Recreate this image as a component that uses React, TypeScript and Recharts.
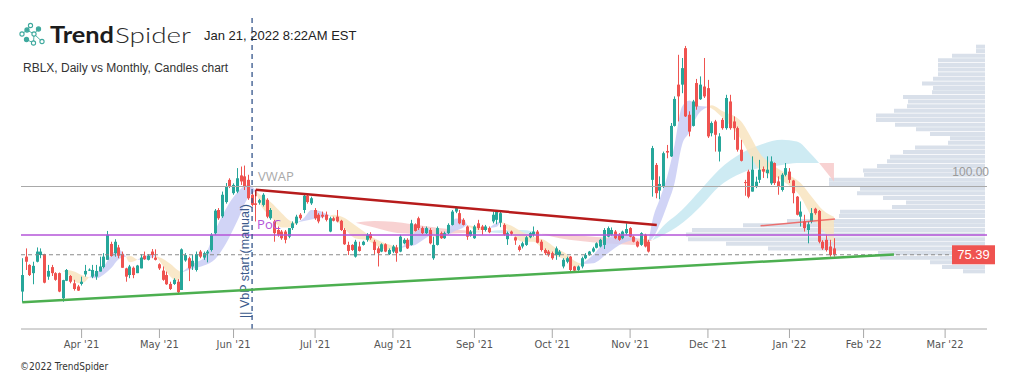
import React from "react";
import {
  ComposedChart,
  BarChart,
  Bar,
  Area,
  XAxis,
  YAxis,
  ReferenceLine,
  ReferenceDot,
} from "recharts";

// daily candles, one per trading day from Mar 10 2021 to Jan 20 2022 (x = trading-day index)
const opens = [
  63.8, 74.8, 72.2, 69.6, 73.2, 75.3, 75.6, 68.5, 71.5, 69.6,
  69.6, 61.7, 67.2, 68.7, 66.4, 65.4, 66.2, 69.2, 70.5, 68.5,
  68.5, 70.1, 71.5, 73.8, 78.8, 75.9, 77.7, 75.6, 71.1, 69.0,
  71.3, 69.6, 71.1, 75.1, 73.8, 76.4, 74.5, 72.4, 70.4, 69.0,
  66.2, 66.2, 66.9, 64.3, 73.6, 74.3, 71.7, 70.6, 76.4, 74.5,
  75.8, 76.9, 82.2, 89.5, 87.5, 92.0, 99.0, 94.8, 95.3, 100.4,
  100.1, 99.0, 94.3, 91.6, 91.8, 91.1, 92.7, 86.9, 85.9, 83.2,
  82.7, 82.7, 81.1, 83.8, 85.3, 88.0, 89.5, 94.0, 91.6, 89.5,
  88.0, 88.0, 88.0, 82.7, 86.9, 87.4, 86.1, 83.2, 78.5, 78.5,
  74.8, 78.0, 78.5, 80.1, 81.9, 79.5, 77.4, 76.4, 78.7, 75.6,
  76.4, 77.7, 76.4, 79.0, 80.1, 78.5, 85.0, 86.9, 83.8, 82.2,
  83.2, 74.3, 78.5, 82.2, 80.6, 82.2, 84.8, 89.0, 88.5, 86.4,
  84.3, 81.4, 80.6, 85.3, 84.3, 83.2, 83.8, 85.9, 86.4, 85.5,
  84.8, 80.3, 82.7, 80.9, 78.0, 78.0, 78.5, 80.9, 81.7, 82.7,
  79.5, 76.9, 76.4, 75.9, 75.3, 75.3, 71.7, 73.2, 74.8, 71.7,
  70.6, 71.7, 74.3, 75.3, 76.4, 77.6, 78.0, 78.5, 81.1, 81.7,
  82.7, 81.7, 80.6, 82.2, 83.8, 81.1, 79.5, 78.5, 81.7, 79.5,
  99.0, 103.7, 95.6, 96.9, 108.1, 106.4, 116.0, 129.0, 129.0, 140.5,
  119.5, 116.0, 129.5, 124.4, 128.4, 127.9, 113.7, 117.4, 107.9, 117.9,
  115.3, 123.7, 117.4, 115.3, 108.5, 98.3, 101.6, 95.3, 96.9, 99.0,
  102.4, 101.1, 97.9, 104.3, 98.5, 95.8, 100.6, 101.6, 98.8, 93.7,
  87.4, 85.9, 83.2, 85.9, 89.9, 89.2, 79.5, 80.1, 78.0, 77.4,
];
const highs = [
  74.3, 77.4, 72.4, 73.2, 77.7, 77.4, 75.7, 72.2, 72.2, 69.9,
  69.8, 67.5, 70.9, 69.0, 67.5, 65.9, 68.5, 72.2, 71.1, 72.2,
  72.2, 74.8, 75.9, 82.9, 79.5, 80.3, 78.5, 76.4, 71.3, 72.2,
  71.7, 72.2, 75.6, 76.4, 75.6, 77.2, 77.1, 72.7, 71.7, 70.1,
  66.9, 68.0, 67.7, 77.4, 75.9, 74.8, 75.3, 76.4, 76.9, 76.4,
  76.9, 82.2, 89.8, 90.1, 95.3, 98.0, 99.5, 97.9, 102.7, 103.2,
  103.5, 100.6, 95.3, 95.3, 93.0, 94.8, 93.2, 90.1, 86.4, 84.3,
  83.2, 83.2, 83.8, 85.9, 88.0, 88.5, 94.3, 94.5, 93.7, 90.1,
  88.5, 89.0, 89.0, 87.4, 87.4, 89.5, 86.4, 83.8, 79.5, 78.7,
  80.1, 79.5, 79.8, 82.2, 82.5, 80.1, 78.0, 79.0, 79.0, 77.4,
  78.5, 78.5, 81.7, 80.6, 80.6, 86.4, 85.3, 87.4, 84.3, 84.3,
  83.8, 81.1, 84.3, 82.7, 82.7, 85.3, 89.5, 90.6, 89.5, 86.9,
  84.6, 83.2, 84.8, 86.4, 84.8, 84.8, 84.3, 89.0, 89.5, 89.0,
  85.3, 82.7, 83.0, 81.1, 78.5, 79.5, 81.3, 82.5, 84.3, 83.2,
  80.1, 77.4, 76.9, 76.4, 78.0, 76.9, 74.3, 74.8, 75.0, 71.9,
  72.0, 74.8, 75.9, 76.6, 77.9, 79.3, 80.4, 83.8, 84.3, 84.0,
  83.2, 82.2, 83.0, 85.3, 84.1, 81.4, 79.8, 82.5, 82.0, 80.1,
  109.7, 104.3, 100.1, 107.9, 110.0, 116.9, 125.3, 138.4, 137.4, 141.2,
  120.6, 124.2, 130.8, 131.6, 137.4, 130.5, 117.4, 117.9, 113.7, 118.5,
  125.8, 125.8, 119.0, 115.8, 111.6, 99.0, 102.2, 106.4, 100.0, 105.3,
  103.2, 106.4, 106.4, 104.5, 100.1, 101.1, 104.3, 102.7, 99.0, 93.9,
  92.2, 88.0, 85.9, 90.1, 90.2, 89.5, 80.0, 81.7, 80.1, 80.6,
];
const lows = [
  60.4, 70.6, 68.7, 66.1, 73.0, 74.3, 66.4, 67.5, 68.7, 67.2,
  63.6, 60.6, 67.1, 66.4, 64.1, 64.0, 65.7, 68.5, 70.3, 68.0,
  67.5, 70.1, 71.1, 73.8, 74.8, 74.8, 74.3, 71.3, 66.9, 68.0,
  68.0, 69.6, 71.1, 73.8, 73.6, 74.3, 73.6, 70.6, 67.2, 65.9,
  64.3, 65.9, 63.3, 64.3, 73.2, 67.1, 70.6, 70.1, 74.3, 73.8,
  73.0, 76.4, 81.7, 86.4, 87.0, 91.5, 96.4, 94.3, 94.8, 97.4,
  95.8, 92.7, 90.6, 85.9, 91.2, 90.6, 86.9, 86.4, 79.5, 81.1,
  80.1, 79.0, 80.6, 83.2, 84.8, 86.4, 88.5, 91.5, 91.1, 86.4,
  85.3, 86.9, 85.9, 82.5, 85.9, 85.6, 82.9, 78.5, 75.3, 76.6,
  74.5, 76.4, 78.3, 79.5, 80.1, 75.3, 71.7, 76.2, 76.2, 75.3,
  75.9, 73.2, 76.2, 78.7, 77.2, 78.3, 82.7, 83.2, 81.9, 81.9,
  78.7, 73.8, 78.3, 80.4, 80.4, 81.9, 84.6, 88.5, 85.0, 84.6,
  80.1, 81.1, 80.4, 83.2, 81.7, 82.7, 82.2, 85.3, 85.0, 84.1,
  81.4, 78.5, 81.5, 78.5, 76.4, 77.4, 78.2, 80.6, 81.1, 79.0,
  76.4, 75.3, 74.8, 73.8, 73.8, 74.8, 71.1, 72.7, 70.1, 69.8,
  70.3, 71.1, 74.0, 75.1, 76.1, 77.4, 77.7, 77.2, 80.9, 81.4,
  80.3, 79.8, 80.3, 81.7, 80.9, 79.3, 77.7, 78.2, 77.7, 76.1,
  93.7, 93.2, 92.9, 96.4, 105.8, 106.2, 115.8, 117.4, 126.3, 118.8,
  112.7, 115.8, 121.1, 124.2, 124.8, 112.2, 112.7, 107.9, 104.8, 114.8,
  114.8, 114.8, 111.6, 107.9, 104.8, 94.0, 93.2, 95.3, 96.4, 98.0,
  99.6, 99.5, 97.4, 97.4, 94.3, 95.3, 100.1, 98.0, 91.6, 87.8,
  84.3, 82.7, 79.0, 85.3, 88.0, 79.0, 76.9, 76.4, 74.8, 74.8,
];
const closes = [
  69.0, 73.2, 69.0, 71.9, 76.4, 76.4, 66.6, 70.3, 69.6, 67.5,
  63.8, 67.4, 70.6, 66.9, 64.6, 64.1, 66.9, 70.3, 70.7, 70.6,
  70.3, 71.7, 74.8, 81.7, 75.0, 79.5, 75.1, 71.3, 68.5, 71.7,
  69.0, 72.0, 74.5, 74.0, 75.1, 75.3, 73.8, 71.1, 67.5, 66.1,
  64.6, 67.5, 63.6, 77.1, 75.3, 71.1, 73.5, 75.6, 74.8, 75.9,
  76.4, 81.7, 89.3, 86.9, 94.3, 97.0, 96.9, 97.4, 99.5, 98.5,
  96.9, 93.2, 91.1, 91.1, 92.6, 94.3, 87.4, 89.5, 82.2, 81.7,
  80.6, 80.1, 83.8, 85.3, 87.4, 86.9, 94.0, 92.0, 93.2, 86.9,
  85.9, 87.4, 86.4, 86.9, 86.1, 85.9, 83.2, 78.7, 76.6, 76.9,
  79.5, 76.6, 79.5, 81.7, 80.6, 76.9, 75.9, 78.7, 76.4, 76.9,
  78.0, 75.9, 81.1, 80.1, 77.4, 85.3, 82.9, 83.8, 82.2, 83.8,
  79.0, 78.5, 83.8, 80.6, 82.2, 84.8, 89.0, 90.1, 85.3, 84.8,
  81.1, 82.7, 84.3, 83.8, 83.2, 84.3, 82.5, 88.0, 89.0, 88.5,
  81.7, 82.2, 82.0, 79.9, 76.9, 79.0, 80.9, 82.2, 82.7, 79.2,
  76.9, 75.9, 75.3, 74.3, 77.4, 76.4, 73.8, 74.3, 70.6, 70.4,
  71.7, 74.3, 75.3, 76.4, 77.4, 79.0, 80.1, 83.2, 83.8, 83.2,
  80.6, 80.1, 82.7, 83.5, 81.1, 79.5, 78.0, 82.2, 78.0, 76.4,
  109.0, 94.8, 97.7, 107.4, 107.6, 116.0, 124.5, 125.3, 134.2, 119.0,
  114.2, 123.7, 122.1, 129.0, 125.3, 112.7, 116.9, 113.2, 112.7, 115.3,
  124.8, 115.3, 115.3, 108.5, 105.0, 98.0, 93.7, 102.2, 98.4, 102.2,
  101.6, 102.2, 104.8, 98.0, 96.9, 100.6, 102.7, 99.0, 94.8, 88.0,
  89.0, 83.8, 85.0, 88.5, 88.5, 79.5, 77.4, 76.9, 75.3, 75.39,
];

// month ticks (trading-day index of first session) and labels
const monthTicks = [16, 37, 57, 79, 100, 122, 143, 164, 185, 207, 227, 249];
const monthLabels = ["Apr '21", "May '21", "Jun '21", "Jul '21", "Aug '21", "Sep '21", "Oct '21", "Nov '21", "Dec '21", "Jan '22", "Feb '22", "Mar '22"];

// daily ribbon (fast / slow average band): [index, edgeA, edgeB]
const dailyRibbon: { up: boolean; pts: number[][] }[] = [
  { up: false, pts: [[11, 70.2, 70.2], [12, 70.6, 69.6], [14, 70.1, 67.0], [16, 69.0, 66.4], [18, 68.3, 68.3]] },
  { up: true, pts: [[18, 68.3, 68.3], [20, 69.8, 68.0], [22, 71.7, 69.2], [24, 75.5, 71.2], [26, 77.0, 74.0], [28, 74.8, 74.8]] },
  { up: false, pts: [[28, 74.8, 74.8], [29, 75.0, 73.0], [31, 73.8, 73.8]] },
  { up: true, pts: [[31, 73.8, 73.8], [33, 75.0, 73.8], [35, 75.5, 74.5], [36, 75.0, 75.0]] },
  { up: false, pts: [[36, 75.0, 75.0], [37, 74.6, 73.5], [40, 72.5, 68.5], [42, 70.5, 67.0], [43, 69.8, 69.8]] },
  { up: true, pts: [[43, 69.8, 69.8], [46, 72.5, 71.0], [49, 74.5, 72.0], [52, 83.0, 74.0], [55, 90.0, 79.0], [58, 95.0, 86.0], [61, 97.5, 93.5], [63, 95.5, 95.5]] },
  { up: false, pts: [[63, 95.5, 95.5], [64, 94.5, 92.0], [67, 92.0, 87.5], [70, 88.5, 84.0], [72, 86.3, 84.0], [74, 85.5, 85.5]] },
  { up: true, pts: [[74, 85.5, 85.5], [76, 87.0, 86.0], [78, 89.5, 86.5], [80, 89.3, 87.0], [82, 88.3, 87.4], [83, 87.8, 87.8]] },
  { up: false, pts: [[83, 87.8, 87.8], [84, 88.0, 87.0], [87, 87.0, 83.5], [90, 84.5, 80.5], [93, 82.0, 80.0], [96, 80.0, 78.0], [99, 78.6, 77.0], [102, 77.5, 77.5]] },
  { up: true, pts: [[102, 77.5, 77.5], [104, 79.5, 78.0], [106, 82.5, 78.5], [108, 84.0, 80.0], [110, 83.5, 81.5], [111, 81.8, 81.8]] },
  { up: false, pts: [[111, 81.8, 81.8], [112, 81.5, 80.5], [113, 81.2, 81.2]] },
  { up: true, pts: [[113, 81.2, 81.2], [115, 83.5, 81.8], [117, 86.8, 83.0], [119, 86.5, 84.0], [120, 84.8, 84.8]] },
  { up: false, pts: [[120, 84.8, 84.8], [123, 84.2, 83.0], [126, 83.8, 83.8]] },
  { up: true, pts: [[126, 83.8, 83.8], [128, 85.5, 84.2], [129, 85.8, 85.8]] },
  { up: false, pts: [[129, 85.8, 85.8], [132, 84.5, 82.0], [135, 82.5, 79.5], [138, 81.0, 79.5], [141, 80.0, 76.5], [144, 77.5, 75.0], [147, 75.5, 73.5], [149, 73.5, 71.5], [151, 72.5, 72.5]] },
  { up: true, pts: [[151, 72.5, 72.5], [154, 75.3, 72.7], [158, 80.6, 75.9], [162, 82.2, 79.0], [165, 81.1, 80.1], [166, 80.5, 80.5]] },
  { up: false, pts: [[166, 80.5, 80.5], [168, 80.3, 78.8], [169, 79.6, 79.6]] },
  { up: true, pts: [[169, 79.6, 79.6], [170, 86.0, 80.5], [172, 93.0, 85.0], [174, 100.0, 91.0], [176, 110.0, 98.0], [178, 122.0, 110.0], [180, 124.0, 114.0], [182, 122.5, 119.0], [185, 122.0, 122.0]] },
  { up: false, pts: [[185, 122.0, 122.0], [186, 122.5, 121.5], [189, 120.6, 118.5], [194, 117.4, 111.6], [196, 113.7, 107.4], [199, 107.4, 102.2], [203, 103.2, 100.1], [206, 101.1, 98.0], [210, 98.0, 93.7], [213, 93.7, 87.4], [216, 89.5, 83.2], [219, 87.4, 79.0]] },
];

// monthly ribbon
const monthlyRibbon: { up: boolean; pts: number[][] }[] = [
  { up: false, pts: [[90, 85.5, 85.5], [95, 86.0, 84.0], [100, 85.8, 82.5], [105, 85.0, 82.0], [110, 84.2, 81.8], [115, 83.5, 82.0], [120, 83.0, 82.3], [125, 82.6, 82.6]] },
  { up: true, pts: [[125, 82.6, 82.6], [130, 83.2, 82.2], [135, 83.2, 82.0], [140, 82.0, 82.0]] },
  { up: false, pts: [[140, 82.0, 82.0], [145, 81.8, 80.6], [150, 81.5, 79.8], [155, 81.0, 79.2], [160, 80.8, 78.8], [165, 80.6, 78.5], [170, 80.0, 80.0]] },
  { up: true, pts: [[170, 80.0, 80.0], [172, 83.2, 81.1], [178, 89.5, 85.3], [183, 95.8, 90.6], [188, 102.2, 96.9], [194, 107.4, 101.1], [199, 110.0, 102.7], [205, 111.6, 103.7], [209, 111.1, 104.3], [213, 106.9, 104.3], [215, 104.3, 104.3]] },
  { up: false, pts: [[215, 104.3, 104.3], [219, 104.3, 98.5]] },
];

// volume by price (right side profile)
const vpPrice = [
  140.9, 139.5, 138.0, 136.6, 135.1, 133.7, 132.2, 130.8, 129.3, 127.9,
  126.5, 125.0, 123.6, 122.1, 120.7, 119.2, 117.8, 116.3, 114.9, 113.4,
  112.0, 110.6, 109.1, 107.7, 106.2, 104.8, 103.3, 101.9, 100.5, 99.0,
  97.6, 96.1, 94.7, 93.2, 91.8, 90.4, 88.9, 87.5, 86.0, 84.6,
  83.1, 81.7, 80.2, 78.8, 77.3, 75.9, 74.4, 73.0, 71.5, 70.1,
];
const vpVolume = [
  9, 9, 33, 47, 47, 47, 47, 52, 63, 52,
  53, 82, 77, 78, 91, 109, 109, 90, 69, 55,
  35, 37, 70, 82, 95, 98, 108, 122, 121, 156,
  156, 125, 128, 102, 79, 93, 145, 146, 198, 242,
  293, 299, 297, 259, 217, 107, 105, 55, 43, 22,
];

// levels and drawn lines
const vwapLevel = 96.9;
const pocLevel = 81.65;
const lastPrice = 75.39;
const vbpStart = 62;
const supportLine = [{ x: 0, y: 60.4 }, { x: 235.2, y: 75.5 }];
const resistLine = [{ x: 63, y: 95.85 }, { x: 171.2, y: 84.8 }];
const resistTick = [{ x: 63, y: 95.85 }, { x: 63, y: 93.8 }];
const shortLine = [{ x: 199.2, y: 84.5 }, { x: 219.3, y: 86.7 }];

const priceDomain = [52, 150];
const W = 1015;
const H = 376;
const margin = { top: 18, right: 28, bottom: 17, left: 21 };

const rows: any[] = opens.map((o, i) => ({ i, open: o, high: highs[i], low: lows[i], close: closes[i] }));
dailyRibbon.forEach((seg, s) => seg.pts.forEach(([i, a, b]) => { rows[i][`d${s}`] = [a, b]; }));
monthlyRibbon.forEach((seg, s) => seg.pts.forEach(([i, a, b]) => { rows[i][`m${s}`] = [a, b]; }));
const vpRows = vpPrice.map((p, k) => ({ price: p, vol: vpVolume[k] }));

const UP = "#26a69a";
const DOWN = "#ef5350";

const Candle = (props: any) => {
  const { x, y, width, height, payload } = props;
  if (!payload || payload.high == null) return null;
  const { open, close, high, low } = payload;
  const top = Math.min(y, y + height);
  const h = Math.abs(height);
  const color = close >= open ? UP : DOWN;
  const k = h / (high - low || 1);
  const bTop = top + (high - Math.max(open, close)) * k;
  const bBot = top + (high - Math.min(open, close)) * k;
  const cx = Math.round(x + width / 2) + 0.5;
  return (
    <g>
      <line x1={cx} x2={cx} y1={top} y2={top + h} stroke={color} strokeWidth={1} />
      <rect x={cx - 1.5} y={bTop} width={3} height={Math.max(1, bBot - bTop)} fill={color} />
    </g>
  );
};

const Logo = () => {
  const pts = [[22, 34], [27, 30], [30.5, 25.5], [34, 34], [38.5, 29], [42, 41.5], [33.5, 43], [26.5, 39.5]];
  const links = [[0, 1], [1, 2], [1, 3], [3, 4], [3, 6], [6, 7], [3, 5]];
  return (
    <g stroke="#3fa99e" fill="none" strokeWidth={1.1}>
      {links.map(([a, b], k) => (
        <line key={k} x1={pts[a][0]} y1={pts[a][1]} x2={pts[b][0]} y2={pts[b][1]} strokeWidth={0.9} />
      ))}
      {pts.map(([x, y], k) => (
        <circle key={k} cx={x} cy={y} r={2.1} fill={k % 3 === 1 ? "#3fa99e" : "#fff"} />
      ))}
    </g>
  );
};

export default function App() {
  return (
    <div style={{ position: "absolute", left: 0, top: 0, width: W, height: H, background: "#fff", overflow: "hidden" }}>
      <div style={{ position: "absolute", left: 0, top: 0 }}>
        <BarChart
          width={W}
          height={H}
          data={vpRows}
          layout="vertical"
          margin={{ top: margin.top, right: 30, bottom: 47, left: 655 }}
        >
          <XAxis type="number" dataKey="vol" domain={[0, 330]} reversed hide allowDataOverflow />
          <YAxis type="number" dataKey="price" domain={priceDomain} reversed hide allowDataOverflow />
          <Bar dataKey="vol" fill="#d9e0ea" barSize={4} isAnimationActive={false} />
        </BarChart>
      </div>
      <div style={{ position: "absolute", left: 0, top: 0 }}>
        <ComposedChart width={W} height={H} data={rows} margin={margin}>
          <XAxis
            type="number"
            dataKey="i"
            domain={[-0.35, 260.3]}
            allowDataOverflow
            ticks={monthTicks}
            interval={0}
            tickFormatter={(v: number) => monthLabels[monthTicks.indexOf(v)] || ""}
            height={30}
            tickSize={9}
            axisLine={{ stroke: "#a8a8a8" }}
            tickLine={{ stroke: "#a8a8a8" }}
            tick={{ fontSize: 11, fill: "#555", fontFamily: "'DejaVu Sans Condensed', 'Liberation Sans Narrow', sans-serif" }}
          />
          <YAxis type="number" domain={priceDomain} hide allowDataOverflow />

          {monthlyRibbon.map((seg, s) => (
            <Area
              key={`m${s}`}
              dataKey={`m${s}`}
              type="monotone"
              stroke="none"
              fill={seg.up ? "#c6e8f1" : "#f7caca"}
              fillOpacity={0.85}
              connectNulls
              dot={false}
              activeDot={false}
              isAnimationActive={false}
            />
          ))}
          {dailyRibbon.map((seg, s) => (
            <Area
              key={`d${s}`}
              dataKey={`d${s}`}
              type="monotone"
              stroke="none"
              fill={seg.up ? "#c9ccf4" : "#f8e4bf"}
              fillOpacity={0.85}
              connectNulls
              dot={false}
              activeDot={false}
              isAnimationActive={false}
            />
          ))}

          <ReferenceLine
            y={vwapLevel}
            stroke="#a9a9a9"
            strokeWidth={1}
            label={(p: any) => (
              <text x={p.viewBox.x + p.viewBox.width + 2} y={p.viewBox.y - 11} textAnchor="end" fontSize={12} fill="#9a9a9a" fontFamily="'Liberation Sans', Arial, sans-serif">
                100.00
              </text>
            )}
          />
          <ReferenceLine y={pocLevel} stroke="#b455d8" strokeWidth={1.5} />
          <ReferenceLine
            y={lastPrice}
            stroke="#8a8a8a"
            strokeDasharray="4 3"
            strokeWidth={1.2}
            label={(p: any) => (
              <g>
                <rect x={p.viewBox.x + p.viewBox.width - 35} y={p.viewBox.y - 9.5} width={43} height={19} fill="#ef5350" />
                <text x={p.viewBox.x + p.viewBox.width - 13.5} y={p.viewBox.y + 4.5} textAnchor="middle" fontSize={13} fill="#fff" fontFamily="'Liberation Sans', Arial, sans-serif">
                  {lastPrice.toFixed(2)}
                </text>
              </g>
            )}
          />
          <ReferenceLine
            x={vbpStart}
            stroke="#34558b"
            strokeDasharray="5 4"
            strokeWidth={1.3}
            label={(p: any) => {
              const tx = p.viewBox.x - 3;
              const ty = p.viewBox.y + p.viewBox.height - 11;
              return (
                <text x={tx} y={ty} transform={`rotate(-90, ${tx}, ${ty})`} fontSize={12.5} fill="#3b5a8c" fontFamily="'Liberation Sans', Arial, sans-serif">
                  || VbP start (manual)
                </text>
              );
            }}
          />

          <Bar dataKey={(d: any) => [d.low, d.high]} shape={<Candle />} barSize={3} isAnimationActive={false} />

          <ReferenceLine segment={supportLine} stroke="#4caf50" strokeWidth={2.5} />
          <ReferenceLine segment={resistLine} stroke="#b71c1c" strokeWidth={2.5} />
          <ReferenceLine segment={resistTick} stroke="#b71c1c" strokeWidth={1.5} />
          <ReferenceLine segment={shortLine} stroke="#ef5350" strokeWidth={1.5} strokeOpacity={0.8} />

          <ReferenceDot
            x={vbpStart}
            y={vwapLevel}
            r={1}
            fill="none"
            stroke="none"
            label={(p: any) => (
              <text x={p.viewBox.x + 7} y={p.viewBox.y - 5} fontSize={13} fill="#a9a9a9" fontFamily="'Open Sans', 'Liberation Sans', sans-serif">
                VWAP
              </text>
            )}
          />
          <ReferenceDot
            x={vbpStart}
            y={pocLevel}
            r={1}
            fill="none"
            stroke="none"
            label={(p: any) => (
              <text x={p.viewBox.x + 6} y={p.viewBox.y - 5} fontSize={13} fill="#b455d8" fontFamily="'Open Sans', 'Liberation Sans', sans-serif">
                PoC
              </text>
            )}
          />
        </ComposedChart>
      </div>
      <svg width={W} height={H} style={{ position: "absolute", left: 0, top: 0, pointerEvents: "none" }}>
        <Logo />
        <text x={50} y={43} fontSize={22} fill="#1c1c1c" fontWeight={700} fontFamily="Lato, 'Noto Sans', sans-serif" textLength={64} lengthAdjust="spacingAndGlyphs">
          Trend
        </text>
        <text x={115} y={43} fontSize={22} fill="#2a2a2a" fontWeight={300} fontFamily="Lato, 'Noto Sans', sans-serif" textLength={76} lengthAdjust="spacingAndGlyphs">
          Spider
        </text>
        <text x={204} y={39.5} fontSize={13} fill="#222" fontFamily="'Liberation Sans', Arial, sans-serif">
          Jan 21, 2022 8:22AM EST
        </text>
        <text x={23} y={71.5} fontSize={12} fill="#333" fontFamily="'Liberation Sans', Arial, sans-serif">
          RBLX, Daily vs Monthly, Candles chart
        </text>
        <text x={20} y={370} fontSize={10} fill="#333" fontFamily="'DejaVu Sans Condensed', 'Liberation Sans Narrow', sans-serif">
          ©2022 TrendSpider
        </text>
      </svg>
    </div>
  );
}
